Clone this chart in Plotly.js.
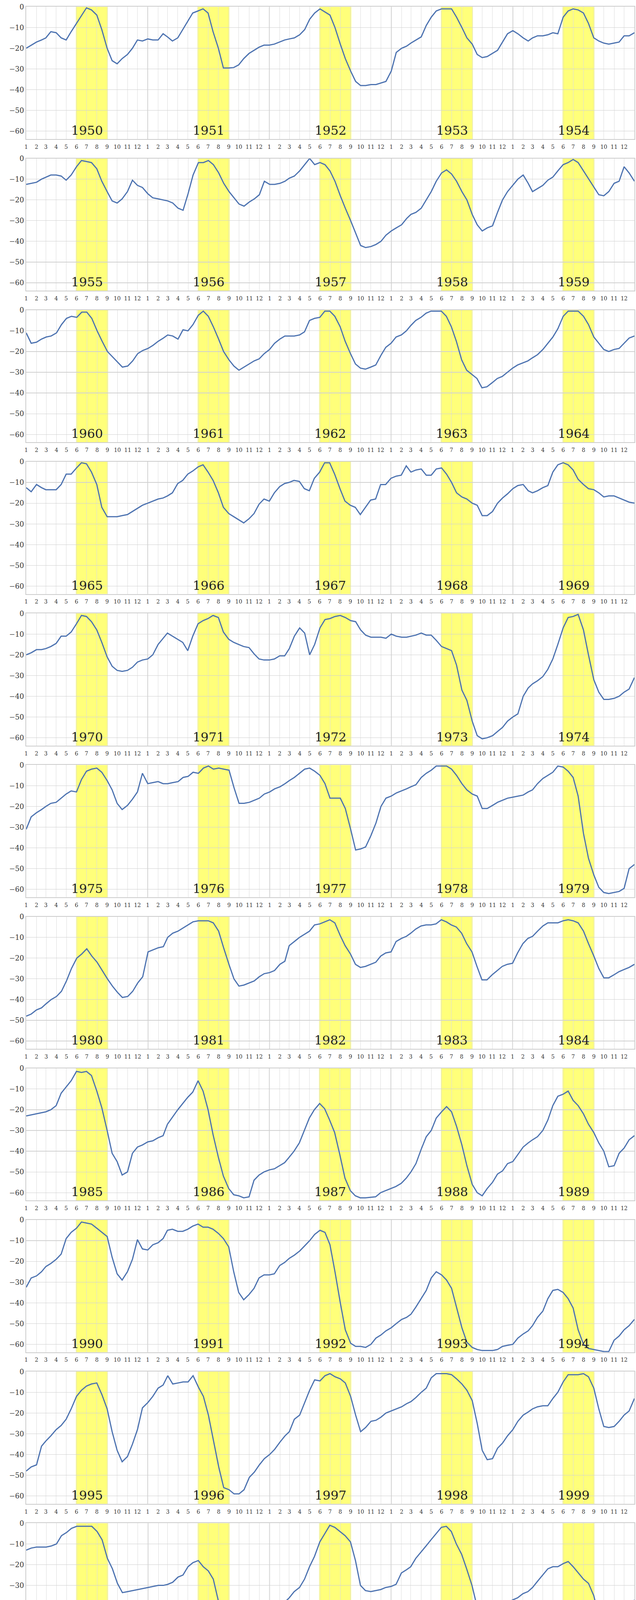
<!DOCTYPE html>
<html><head><meta charset="utf-8">
<script src="https://cdn.plot.ly/plotly-3.0.1.min.js"></script>
<style>body{margin:0;background:#fff}#chart{width:1627px;height:6217px}</style>
</head><body><div id="chart"></div>
<script>
// semi-monthly values: 1st and 16th of each month, Jan..Dec
const y1950=[-20,-18.5,-17,-16,-15,-12,-12.5,-15,-16,-12,-8,-4,-0.5,-1.5,-4,-11,-20,-26,-27.5,-25,-23,-20,-16,-16.5];
const y1951=[-15.5,-16,-16,-13,-14.5,-16.5,-15,-11,-7,-3,-2,-1,-3,-12,-20,-29.5,-29.5,-29.3,-28,-25,-22.5,-21,-19.5,-18.5];
const y1952=[-18.5,-18,-17,-16,-15.5,-15,-13.5,-11,-6,-3,-1,-2.5,-4,-10,-18,-25,-31,-36,-38,-38,-37.5,-37.5,-36.8,-36];
const y1953=[-31,-22,-20,-19,-17.5,-16,-14.5,-9,-5,-2,-1,-1,-1,-5,-10,-15,-18,-23,-24.5,-24,-22.5,-21,-17,-13];
const y1954=[-11.5,-13,-15,-16.5,-15,-14,-14,-13.5,-12.5,-13,-5,-2,-1,-1.5,-3,-8,-15,-16.5,-17.5,-18,-17.5,-17,-14,-14];
const y1955=[-12.5,-12,-11.5,-10,-9,-8,-8,-8.5,-10.5,-8,-4,-1,-1.5,-2,-5,-11,-16,-20.5,-21.5,-19.5,-16,-10.5,-13,-14];
const y1956=[-17,-19,-19.5,-20,-20.5,-21.5,-24,-25,-17,-8,-2,-2,-1,-3,-7,-12,-16,-19,-22,-23,-21,-19.5,-17.5,-11];
const y1957=[-12.5,-12.5,-12,-11,-9.5,-8.5,-6,-3,0,-3,-2,-3,-6,-11,-18,-24,-30,-36,-42,-43,-42.5,-41.5,-40,-37];
const y1958=[-35,-33.5,-32,-29,-27,-26,-24,-20,-16,-11,-7,-5.5,-7.5,-11,-16,-20,-27,-32,-35,-33.5,-32.5,-26,-20,-16];
const y1959=[-13,-10,-8,-12,-16,-14.5,-13,-10.5,-9,-6,-3,-2,-0.5,-2,-6,-10,-14,-17.5,-18,-16,-12,-11,-4,-7];
const y1960=[-11,-16,-15.5,-14,-13,-12.5,-11,-7,-4,-3,-3.5,-1,-1,-4,-10,-15,-20,-22.5,-25,-27.5,-27,-24.5,-21,-19.5];
const y1961=[-18.5,-17,-15,-13.5,-12,-12.5,-14,-9.5,-10,-7,-2.5,-0.5,-3,-8,-14,-20,-24,-27,-29,-27.5,-26,-24.5,-23.5,-21];
const y1962=[-19,-16,-14,-12.5,-12.5,-12.5,-12,-10.5,-5,-4,-3.5,-0.5,-0.5,-3,-8,-15,-21,-26,-28,-28.5,-27.5,-26.5,-22,-18];
const y1963=[-16,-13,-12,-10,-7.5,-5,-3.5,-1.5,-0.5,-0.5,-0.5,-3,-8,-15,-24,-29,-31,-33,-37.5,-37,-35,-33,-32,-30];
const y1964=[-28,-26.5,-25.5,-24.5,-23,-21.5,-19,-16,-13,-9,-3,-0.5,-0.5,-0.5,-3,-7,-13,-16,-19,-20,-19,-18.5,-16,-13.5];
const y1965=[-12.5,-14.5,-11,-12.5,-13.5,-13.5,-13.5,-11,-6,-6,-3,-0.5,-1,-5,-11,-22,-26.5,-26.5,-26.5,-26,-25.5,-24,-22.5,-21];
const y1966=[-20,-19,-18,-17.5,-16.5,-15,-10.5,-9,-6,-4.5,-2.5,-1.5,-5,-9,-15,-22,-25,-26.5,-28,-29.5,-27.5,-25,-20.5,-18];
const y1967=[-19,-15,-12,-10.5,-10,-9,-9.5,-13,-14,-8,-5,-0.5,-0.5,-6,-13,-19,-21,-22,-25.5,-22,-18.5,-18,-11,-11];
const y1968=[-8,-7,-6.5,-2,-5,-4,-3.5,-6.5,-6.5,-3.5,-3,-6,-10,-15,-17,-18,-20,-21,-26,-26,-24,-20,-17.5,-15.5];
const y1969=[-13,-11.5,-11,-14,-15,-14,-12.5,-11.5,-5,-1.5,-0.5,-1.5,-4,-8.5,-11,-13,-13.5,-15,-17,-16.5,-16.5,-17.5,-18.5,-19.5];
const y1970=[-20,-19,-17.5,-17.5,-17,-16,-14.5,-11,-11,-9,-5,-1,-1.5,-4,-8,-14,-21,-25.5,-27.5,-28,-27.5,-26,-23.5,-22.5];
const y1971=[-22,-20,-15,-12,-9.5,-11,-12.5,-14,-18,-11,-5,-3.5,-2.5,-1,-2,-9,-12.5,-14,-15,-16,-16.5,-19.5,-22,-22.5];
const y1972=[-22.5,-22,-20.5,-20.5,-17,-11,-7,-9.5,-20,-15,-7,-3,-2.5,-1.5,-1,-2,-3.5,-4,-8,-10.5,-11.5,-11.5,-11.5,-12];
const y1973=[-10,-11,-11.5,-11.5,-11,-10.5,-9.5,-10.5,-10.5,-13,-16,-17,-18,-25,-37,-42,-52,-59,-60.5,-60,-59,-57,-55,-52];
const y1974=[-50,-48.5,-40,-36,-34,-32.5,-30.5,-27,-22,-15,-7,-2,-1.5,-0.5,-8,-20,-32,-38,-41.5,-41.5,-41,-40,-38,-36.5];
const y1975=[-31,-25,-23,-21.5,-20,-18.5,-18,-16,-14,-12.5,-13,-7,-3,-2,-1.5,-3.5,-7.5,-12,-18.5,-21.5,-19.5,-16.5,-13,-4];
const y1976=[-9,-8.5,-8,-9,-9,-8.5,-8,-6,-5.5,-3.5,-4,-1.5,-0.5,-2,-1.5,-2,-2.5,-11,-18.5,-18.5,-18,-17,-16,-14];
const y1977=[-13,-11.5,-10.5,-9,-7.5,-6,-4,-2,-1.5,-3,-5,-9,-16,-16,-16,-21,-31,-41,-40.5,-39.5,-34,-28,-20,-16];
const y1978=[-15,-13.5,-12.5,-11.5,-10.5,-9.5,-6,-4,-2.5,-0.5,-0.5,-0.5,-2,-5,-9,-12,-14,-15,-21,-21,-19.5,-18,-17,-16];
const y1979=[-15.5,-15,-14.5,-13,-12,-9,-6.5,-5,-3.5,-0.5,-1,-3,-6,-15,-33,-45,-53,-59,-61.5,-62,-61.5,-61,-59.5,-50];
const y1980=[-48,-47,-45,-44,-42,-40,-38.5,-36,-31,-25,-20,-18,-15.5,-19,-22,-26,-30,-33.5,-36.5,-39,-38.5,-36,-32,-29];
const y1981=[-17,-16,-15,-14.5,-10,-8,-7,-5.5,-4,-2.5,-2,-2,-2,-3,-7,-15,-23,-30,-33.5,-33,-32,-31,-29,-27.5];
const y1982=[-27,-26,-23,-21.5,-14,-12,-10,-8.5,-7,-4,-3.5,-2.5,-1.5,-3,-9,-14,-18,-23,-24.5,-24,-23,-22,-19,-17.5];
const y1983=[-17,-12,-10.5,-9.5,-8,-6,-4.5,-4,-4,-3.5,-1.5,-2.5,-4,-5,-8,-13,-17,-24,-30.5,-30.5,-28,-26,-24,-23];
const y1984=[-22.5,-17.5,-13,-10.5,-9.5,-7,-4.5,-3,-3,-3,-2,-1.5,-2,-3,-7,-13,-19,-25,-29.5,-29.5,-28,-26.5,-25.5,-24.5];
const y1985=[-23,-22.5,-22,-21.5,-21,-20,-18,-12,-9,-6,-1.5,-2,-1.5,-3.5,-11,-19,-30,-41,-45,-51.5,-50,-41,-38,-37];
const y1986=[-35.5,-35,-33.5,-32.5,-27,-23.5,-20,-17,-14,-11.5,-6,-11,-20,-32,-43,-52,-58,-61,-61.5,-62.5,-62,-54,-51.5,-50];
const y1987=[-49,-48.5,-47,-45.5,-43,-40,-36,-30,-24,-20,-17,-19.5,-25,-31,-42,-53,-59,-61.5,-62.5,-62.5,-62.3,-62,-60,-59];
const y1988=[-58,-57,-55.5,-53,-50,-46,-39,-33,-30,-24,-21,-18.5,-21,-28,-37,-47,-56,-60,-61.5,-58,-55,-51,-49.5,-46];
const y1989=[-45,-41.5,-38,-36,-34.5,-33,-30,-25,-18,-13.5,-12.5,-11,-15.5,-18,-22,-27,-31,-36,-40,-47.5,-47,-41,-38.5,-34.5];
const y1990=[-32.5,-28,-27,-25,-22.5,-21,-19,-16.5,-9,-6,-4,-1,-1.5,-2,-4,-6,-8,-18,-26,-29,-25,-19,-9.5,-14];
const y1991=[-14.5,-12,-11,-9,-5,-4.5,-5.5,-5.5,-4.5,-3,-2,-3.5,-3.5,-4.5,-6.5,-9,-13,-25,-35,-38.5,-36,-33,-28,-26.5];
const y1992=[-26.5,-26,-22,-20.5,-18.5,-17,-15,-12.5,-10,-7,-5,-6,-12,-25,-40,-53,-59.5,-61,-61,-61.5,-60,-57,-55.5,-53.5];
const y1993=[-52,-50,-48,-47,-45.5,-42,-38,-34,-28,-25,-26.5,-29,-33,-42,-52,-59,-61.5,-62.5,-63,-63,-63,-62.5,-61,-60.5];
const y1994=[-60,-57,-55,-53.5,-51,-47,-44,-38,-34,-33.5,-35,-38,-42.5,-53,-60,-62,-62.5,-63,-63.5,-63.5,-58,-56,-53,-51];
const y1995=[-48,-46,-45,-36,-33.5,-31,-28,-26,-23,-18,-12,-9,-7,-6,-5.5,-11,-18,-29,-38,-43.5,-41,-35,-28,-17.5];
const y1996=[-15,-12,-8,-6.5,-2,-6,-5.5,-5,-5,-2,-7.5,-12,-21,-33,-46,-56,-57,-59,-59,-57,-51,-48.5,-45,-42];
const y1997=[-40,-37.5,-34,-31,-29,-23,-21,-15,-9,-4,-4.5,-2,-1,-2.5,-3.5,-5.5,-12,-21,-29,-27,-24,-23.5,-22,-20];
const y1998=[-19,-18,-17,-15.5,-14.5,-12.5,-10,-8,-3,-1,-1,-1,-1.5,-3.5,-6,-9,-14,-25,-38,-42.5,-42,-37,-34.5,-31];
const y1999=[-28,-24,-21,-19.5,-18,-17,-16.5,-16.5,-13,-10,-5,-1.5,-1.5,-1.5,-1,-2.5,-8,-18,-26.5,-27,-26.5,-24,-21,-19];
const y2000=[-13,-12,-11.5,-11.5,-11.5,-11,-10,-6,-4.5,-2.5,-1.5,-1.5,-1.5,-1.5,-4,-8,-17,-22,-29,-33.5,-33,-32.5,-32,-31.5];
const y2001=[-31,-30.5,-30,-30,-29.5,-28.5,-26,-25,-21,-19,-18,-21,-23,-27,-38,-50,-56,-62,-63,-62,-60,-55,-52,-49];
const y2002=[-48,-44,-40,-38,-36,-33,-31,-27,-21,-16,-9,-5,-1,-2,-4,-6,-9,-18,-30,-32.5,-33,-32.5,-32,-31];
const y2003=[-30.5,-29.5,-24,-22.5,-21,-17,-14,-11,-8,-5,-2,-1.5,-4,-10,-15,-22,-30,-40,-50,-53.5,-50,-45,-40,-38.5];
const y2004=[-37,-36,-34,-33,-31,-28,-25,-22,-21,-21,-19.5,-18.5,-21,-24,-27,-29,-35,-45,-52,-51,-49,-46,-44,-40];
const y2005=[-37,-31,-28.5,-27.5,-26.5,-26,-24,-22,-20,-18,-18,-20.5,-22.5,-25,-30,-38,-48,-56,-60.5,-60.5,-59.5,-57,-55.5,-54.5];
const y2006=[-51,-46,-43,-41.5,-40,-38.5,-37,-33,-30,-23,-19.5,-16,-15,-15,-15.5,-17,-22,-31,-40,-43.5,-43,-33,-30,-27.5];
const y2007=[-26,-24.5,-23,-21.5,-19.5,-18,-12,-9,-5.5,-1.5,-1,-1,-1,-1.5,-3.5,-6,-10,-21,-33,-33,-32.5,-31,-28,-27];
const y2008=[-26,-25.5,-25,-24,-23,-22,-21,-20.5,-20,-15,-6,-2,-1.5,-1.5,-2,-2.5,-7,-16,-25,-25,-20,-18,-17,-16];
const y2009=[-15.5,-10.5,-9,-8.5,-8,-7.5,-6.5,-5.5,-4,-2,-2,-1.5,-1.5,-2.5,-5,-10,-16,-25,-35,-34,-32,-30,-29,-28];
const y2010=[-27,-25,-24,-23,-21.5,-20,-18,-16,-13,-9.5,-6,-4,-3.5,-4.5,-7,-11,-17,-24,-28,-30.5,-28,-26,-25,-22.5];
const y2011=[-20.5,-13,-9.5,-8,-7,-6,-5.5,-3,-6,-4.5,-2,-1.5,-1.5,-1.5,-1.5,-4,-11,-20,-26.5,-26,-25.5,-24.5,-24.5,-25];
const y2012=[-23,-21.5,-20,-19,-17,-15.5,-14.5,-13,-10,-5,-2.5,-1.5,-1.5,-1.5,-1.5,-2,-5,-14,-24,-25,-21.5,-19,-17,-16.5];
const y2013=[-16,-15.5,-15,-14.5,-13.5,-11,-9,-5,-3.5,-2,-1.5,-1.5,-2,-5,-10,-17,-24,-26.5,-26.5,-25.5,-23,-21,-20,-18];
const y2014=[-16.5,-15.5,-13,-11,-7,-5,-3.5,-4,-3,-1.5,-1.5,-2,-2.5,-4,-8,-15,-23,-29.5,-31,-28,-27,-22,-20,-18];
const y2015=[-16.5,-12.5,-9,-6,-4.5,-3,-1,-1.5,-2,-3.5,-6,-10,-14,-19,-24,-30,-36,-43,-50,-55.5,-56,-47,-41,-35];
const y2016=[-33,-32,-30,-26,-22,-19,-17,-12,-7,-3,-1.5,-2,-4,-7,-11,-16,-23,-34,-39,-37,-34,-32,-30,-29.5];
const y2017=[-29,-29,-28.5,-28,-27,-23,-20.5,-17,-13.5,-9,-3,-1.5,-2.5,-4,-6.5,-10,-17,-28,-36,-33,-32,-27,-25.5,-23];
const y2018=[-21,-19.5,-17,-14.5,-13,-12.5,-13.5,-10,-7,-3,-2,-2,-2,-3.5,-7,-11,-18,-28,-35,-37.5,-34,-33,-31,-29.5];
const y2019=[-27,-24.5,-23,-21.5,-21.5,-21,-20,-15,-13,-10,-8,-6.5,-7.5,-12,-15,-25,-36,-47,-53,-57,-53,-52.5,-51.5,-50];
const y2020=[-46,-40,-37.5,-28,-26.5,-25,-23.5,-22,-18,-12.5,-7.5,-5,-4.5,-6.5,-10,-13,-19,-28,-35,-37,-35.5,-32.5,-30.5,-29];
const y2021=[-26.5,-24.5,-22.5,-21,-20,-18,-15,-12,-8,-5,-2,-2,-3,-4,-5,-7,-11,-18,-29,-33.5,-31,-25,-21,-20];
const y2022=[-19,-17,-15,-14,-12.5,-9.5,-7.5,-4.5,-3.5,-5,-2.5,-2,-1.5,-2,-3,-4.5,-9,-20,-30,-34,-31,-30.5,-29.5,-29.5];
const y2023=[-27.5,-26.5,-25.5,-24,-23.5,-23,-22,-21,-22,-13,-10,-10,-9.5,-13,-20,-28,-37,-46,-57,-62,-63,-61,-60,-55];
const y2024=[-52,-50.5,-49,-47.5,-44,-41.5,-38.5,-35,-31.5,-28,-25.5,-25,-26.5,-29.5,-33,-40,-47,-54,-59,-60,-59,-57,-56,-54];
const y2025=[-52,-50.5,-49.5,-49,-46.5,-43.5,-37,-33,-28,-25,-22.5,-21,-20.5,-26,-32.5,-42,-50,-57,-61,-62.5,-62.5,-57,-55.5,-36];
const y2026=[-32,-29,-26.5,-25,-24,-20,-14,-11,-9,-7,-7,-7.5,-8.5,-11,-15,-19];
const last2026Date='2026-08-24', last2026Value=-22.5;

const years=[];for(let y=1950;y<=2026;y++)years.push(y);
const series=[y1950,y1951,y1952,y1953,y1954,y1955,y1956,y1957,y1958,y1959,y1960,y1961,y1962,y1963,y1964,y1965,y1966,y1967,y1968,y1969,y1970,y1971,y1972,y1973,y1974,y1975,y1976,y1977,y1978,y1979,y1980,y1981,y1982,y1983,y1984,y1985,y1986,y1987,y1988,y1989,y1990,y1991,y1992,y1993,y1994,y1995,y1996,y1997,y1998,y1999,y2000,y2001,y2002,y2003,y2004,y2005,y2006,y2007,y2008,y2009,y2010,y2011,y2012,y2013,y2014,y2015,y2016,y2017,y2018,y2019,y2020,y2021,y2022,y2023,y2024,y2025,y2026];

function dt(y,i){const m=Math.floor(i/2)+1;return y+'-'+String(m).padStart(2,'0')+'-'+(i%2?'16':'01');}

const W=1627,H=6217,L=67,R=1623,TOP=17.4,PITCH=388.2,PH=338.6;
const FONT='DejaVu Serif, serif';
const data=[],shapes=[],annotations=[];
const layout={width:W,height:H,margin:{l:0,r:0,t:0,b:0},paper_bgcolor:'#fff',plot_bgcolor:'#fff',showlegend:false,shapes,annotations};
const nRows=Math.ceil(years.length/5);
for(let r=0;r<nRows;r++){
  const n=r+1, xs=n===1?'':n, y0=years[r*5];
  const rowYears=years.slice(r*5,r*5+5);
  const X=[],Y=[];
  rowYears.forEach(y=>{const s=series[y-1950];s.forEach((v,i)=>{X.push(dt(y,i));Y.push(v);});});
  const nextIdx=r*5+5;
  if(nextIdx<years.length){X.push(years[nextIdx]+'-01-01');Y.push(series[nextIdx][0]);}
  if(rowYears.includes(2026)){X.push(last2026Date);Y.push(last2026Value);}
  data.push({type:'scatter',mode:'lines',x:X,y:Y,xaxis:'x'+xs,yaxis:'y'+xs,line:{color:'#4c72b0',width:3},hoverinfo:'skip'});
  const top=TOP+r*PITCH, bot=top+PH;
  const widthFrac=rowYears.length===5?1:rowYears.length/5;
  const xl=L/W, xr=(L+(R-L)*widthFrac)/W;
  layout['xaxis'+xs]={domain:[xl,xr],anchor:'y'+xs,type:'date',
    range:[y0+'-01-01',(y0+rowYears.length)+'-01-01'],
    dtick:'M1',tick0:y0+'-01-01',tickformat:'%-m',ticks:'',showgrid:true,gridcolor:'#dcdcdc',gridwidth:1,
    showline:true,linecolor:'#cccccc',linewidth:2,mirror:true,zeroline:false,
    tickfont:{family:FONT,size:14,color:'#333'},ticklabelstandoff:6};
  layout['yaxis'+xs]={domain:[1-bot/H,1-top/H],anchor:'x'+xs,range:[-63.8,0],
    tickvals:[0,-10,-20,-30,-40,-50,-60],ticks:'',showgrid:true,gridcolor:'#d0d0d0',gridwidth:1.2,
    showline:true,linecolor:'#cccccc',linewidth:2,mirror:true,zeroline:false,
    tickfont:{family:FONT,size:18,color:'#333'}};
  rowYears.forEach((y,k)=>{
    shapes.push({type:'rect',xref:'x'+xs,yref:'y'+xs+' domain',x0:y+'-05-30',x1:y+'-09-03',y0:0,y1:1,
      fillcolor:'rgba(255,255,0,0.52)',line:{width:0},layer:'below'});
    if(k>0)shapes.push({type:'line',xref:'x'+xs,yref:'y'+xs+' domain',x0:y+'-01-01',x1:y+'-01-01',y0:0,y1:1,
      line:{color:'#c8c8c8',width:2},layer:'below'});
    annotations.push({xref:'x'+xs,yref:'y'+xs,x:y+'-07-02',y:-63.6,yanchor:'bottom',xanchor:'center',
      text:String(y),showarrow:false,font:{family:FONT,size:32,color:'#222'}});
  });
}
Plotly.newPlot('chart',data,layout,{staticPlot:true});
</script></body></html>
